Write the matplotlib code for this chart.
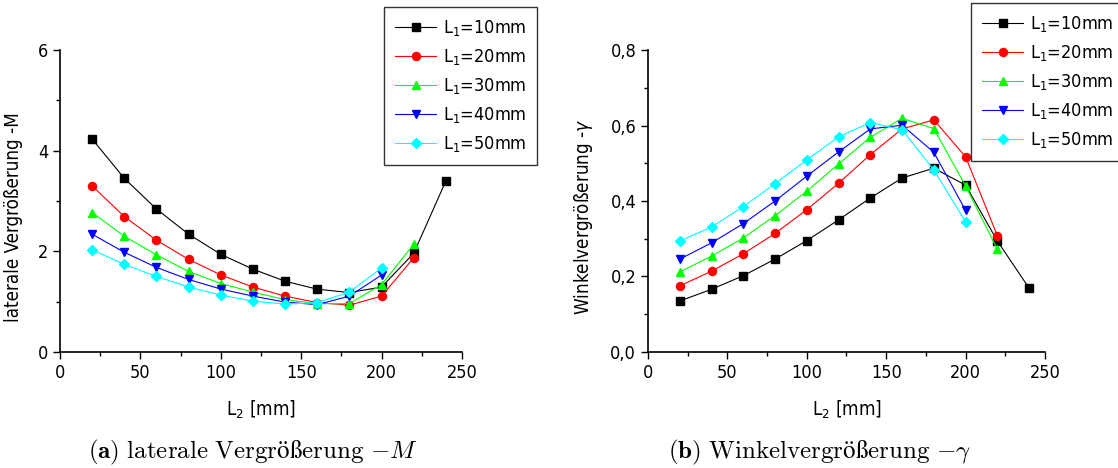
import matplotlib.pyplot as plt
from matplotlib.ticker import MultipleLocator, FuncFormatter

# L2 positions [mm]
L2 = [20, 40, 60, 80, 100, 120, 140, 160, 180, 200, 220, 240]

labels = ['L$_1$=10mm', 'L$_1$=20mm', 'L$_1$=30mm', 'L$_1$=40mm', 'L$_1$=50mm']
colors = ['#000000', '#ff0000', '#00ff00', '#0000ff', '#00ffff']
markers = ['s', 'o', '^', 'v', 'D']

# laterale Vergroesserung -M
M_10 = [4.23, 3.45, 2.84, 2.34, 1.94, 1.645, 1.405, 1.247, 1.18, 1.29, 1.96, 3.40]
M_20 = [3.30, 2.69, 2.22, 1.84, 1.53, 1.29, 1.11, 0.98, 0.93, 1.11, 1.87]
M_30 = [2.77, 2.30, 1.93, 1.60, 1.36, 1.19, 1.04, 0.96, 0.96, 1.34, 2.14]
M_40 = [2.34, 1.98, 1.68, 1.44, 1.25, 1.11, 0.99, 0.94, 1.11, 1.53]
M_50 = [2.03, 1.74, 1.50, 1.29, 1.13, 1.01, 0.95, 0.98, 1.19, 1.67]

# Winkelvergroesserung -gamma
G_10 = [0.135, 0.166, 0.202, 0.246, 0.295, 0.350, 0.408, 0.461, 0.487, 0.442, 0.294, 0.169]
G_20 = [0.175, 0.214, 0.260, 0.314, 0.377, 0.447, 0.523, 0.591, 0.615, 0.517, 0.308]
G_30 = [0.212, 0.254, 0.302, 0.361, 0.426, 0.498, 0.569, 0.619, 0.592, 0.440, 0.272]
G_40 = [0.246, 0.289, 0.340, 0.400, 0.466, 0.530, 0.591, 0.601, 0.529, 0.375]
G_50 = [0.294, 0.331, 0.385, 0.446, 0.509, 0.570, 0.608, 0.589, 0.482, 0.345]

M_all = [M_10, M_20, M_30, M_40, M_50]
G_all = [G_10, G_20, G_30, G_40, G_50]

plt.rcParams['font.family'] = 'DejaVu Sans'
plt.rcParams['font.stretch'] = 'condensed'
plt.rcParams['mathtext.fontset'] = 'dejavusans'

fig = plt.figure(figsize=(11.18, 4.68), dpi=100)
ax1 = fig.add_axes([0.0537, 0.248, 0.3595, 0.645])
ax2 = fig.add_axes([0.5796, 0.248, 0.3551, 0.645])


def style(ax):
    for s in ['top', 'right']:
        ax.spines[s].set_visible(False)
    for s in ['left', 'bottom']:
        ax.spines[s].set_linewidth(1.2)
    ax.set_xlim(0, 250)
    ax.xaxis.set_major_locator(MultipleLocator(50))
    ax.xaxis.set_minor_locator(MultipleLocator(25))
    ax.tick_params(which='major', direction='out', length=5, width=1, labelsize=13)
    ax.tick_params(which='minor', direction='out', length=3, width=1)
    ax.set_xlabel('L$_2$ [mm]', fontsize=13.5, labelpad=12)


def draw(ax, series):
    for ys, lab, c, m in zip(series, labels, colors, markers):
        ax.plot(L2[:len(ys)], ys, color=c, marker=m, markersize=5.8 if m != 'D' else 5.2,
                linewidth=0.8, label=lab)


draw(ax1, M_all)
draw(ax2, G_all)

style(ax1)
ax1.set_ylim(0, 6)
ax1.yaxis.set_major_locator(MultipleLocator(2))
ax1.yaxis.set_minor_locator(MultipleLocator(1))
ax1.set_ylabel('laterale Vergrößerung -M', fontsize=13.5)
ax1.yaxis.set_label_coords(-0.093, 0.445)

style(ax2)
ax2.set_ylim(0, 0.8)
ax2.yaxis.set_major_locator(MultipleLocator(0.2))
ax2.yaxis.set_minor_locator(MultipleLocator(0.1))
ax2.yaxis.set_major_formatter(FuncFormatter(lambda v, p: f'{v:.1f}'.replace('.', ',')))
ax2.set_ylabel('Winkelvergrößerung -$\\gamma$', fontsize=13.5)
ax2.yaxis.set_label_coords(-0.134, 0.447)

leg_kw = dict(loc='upper left', fontsize=13, handlelength=2.3, labelspacing=0.5,
              borderpad=0.6, borderaxespad=0, handletextpad=0.35, fancybox=False,
              framealpha=1, edgecolor='#333333')
l1 = ax1.legend(bbox_to_anchor=(384 / 1118, 1 - 7 / 468), bbox_transform=fig.transFigure, **leg_kw)
l2 = ax2.legend(bbox_to_anchor=(971 / 1118, 1 - 3 / 468), bbox_transform=fig.transFigure, **leg_kw)
for lg in (l1, l2):
    lg.get_frame().set_linewidth(1.0)

cap = dict(fontsize=18, math_fontfamily='cm', va='center')
fig.text(88 / 1118, 1 - 452 / 468,
         r'$\mathbf{(a)}\ \mathrm{laterale\ Vergrößerung}\ {-}M$', **cap)
fig.text(668 / 1118, 1 - 452 / 468,
         r'$\mathbf{(b)}\ \mathrm{Winkelvergrößerung}\ {-}\gamma$', **cap)

fig.savefig('out.png', dpi=100)
